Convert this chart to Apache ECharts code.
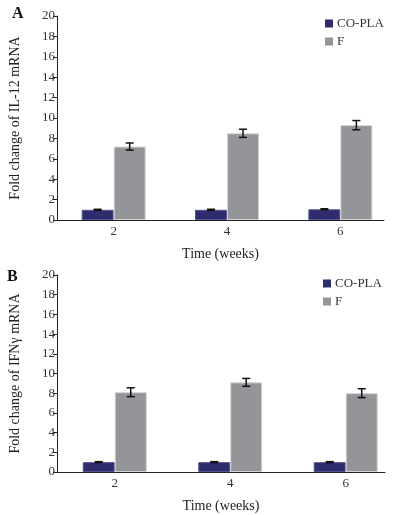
<!DOCTYPE html>
<html>
<head>
<meta charset="utf-8">
<script src="https://cdn.jsdelivr.net/npm/echarts@6/dist/echarts.min.js"></script>
<style>
	html, body { margin:0; padding:0; background:#fff; }
	#chart { width:396px; height:515px; }
</style>
</head>
<body>
<div id="chart"></div>
<script>
// data
var weeks = [2, 4, 6];
var seriesNames = ['CO-PLA', 'F'];
var il12Copla = [1.0, 1.0, 1.05];
var il12CoplaErr = [0.05, 0.05, 0.05];
var il12F = [7.2, 8.5, 9.3];
var il12FErr = [0.35, 0.4, 0.45];
var ifnCopla = [1.0, 1.0, 1.0];
var ifnCoplaErr = [0.05, 0.05, 0.05];
var ifnF = [8.1, 9.1, 8.0];
var ifnFErr = [0.45, 0.4, 0.45];
var yTitles = ['Fold change of IL-12 mRNA', 'Fold change of IFNγ mRNA'];

var FONT = 'Liberation Serif';
var BW = 32;	//bar width px
var colors = ['#2f2c6e', '#939598'];

function pairs(vals, errs){
	var ls = [];
	for(var i=0; i<weeks.length; i++){ ls.push(errs ? [weeks[i], vals[i], errs[i]] : [weeks[i], vals[i]]); }
	return ls;
}

function errSeries(idx, vals, errs, off){
	return {
		type:'custom', xAxisIndex:idx, yAxisIndex:idx, z:5, silent:true,
		data: pairs(vals, errs),
		renderItem: function(params, api){
			var x = api.value(0), y = api.value(1), e = api.value(2);
			var hi = api.coord([x, y + e]), lo = api.coord([x, y - e]);
			var cx = hi[0] + off, st = {stroke:'#111', lineWidth:1.5};
			return {type:'group', children:[
				{type:'line', shape:{x1:cx, y1:hi[1], x2:cx, y2:lo[1]}, style:st},
				{type:'line', shape:{x1:cx-4, y1:hi[1], x2:cx+4, y2:hi[1]}, style:st},
				{type:'line', shape:{x1:cx-4, y1:lo[1], x2:cx+4, y2:lo[1]}, style:st}
			]};
		}
	};
}

function barSeries(idx, name, vals, ci){
	return {
		type:'bar', name:name, xAxisIndex:idx, yAxisIndex:idx,
		barWidth:BW, barGap:'0%', data: pairs(vals),
		itemStyle:{color:colors[ci], borderColor: ci ? '#d2d3d5' : '#55538c', borderWidth:1}
	};
}

function xAx(idx, max){
	return {
		type:'value', gridIndex:idx, min:1, max:max, interval:1,
		name:'Time (weeks)', nameLocation:'middle', nameGap:27,
		nameTextStyle:{fontFamily:FONT, fontSize:14, color:'#222'},
		axisLine:{show:true, lineStyle:{color:'#222', width:1}},
		axisTick:{show:false}, splitLine:{show:false},
		axisLabel:{fontFamily:FONT, fontSize:13, color:'#333', margin:5,
			formatter:function(v){ return weeks.indexOf(v) >= 0 ? String(v) : ''; }}
	};
}

function yAx(idx){
	return {
		type:'value', gridIndex:idx, min:0, max:20, interval:2,
		name:yTitles[idx], nameLocation:'middle', nameGap:35,
		nameTextStyle:{fontFamily:FONT, fontSize:14, color:'#222'},
		axisLine:{show:true, lineStyle:{color:'#222', width:1}},
		axisTick:{show:true, length:4, lineStyle:{color:'#222'}},
		splitLine:{show:false},
		axisLabel:{fontFamily:FONT, fontSize:13, color:'#333', margin:2}
	};
}

function legend(top, left){
	return {
		data:seriesNames, orient:'vertical', top:top, left:left, icon:'rect',
		itemWidth:8, itemHeight:8, itemGap:5,
		itemStyle:{borderWidth:0},
		textStyle:{fontFamily:FONT, fontSize:13, color:'#333', padding:[0,0,0,-1]}
	};
}

var option = {
	animation:false,
	grid:[
		{left:53, top:16, width:331, height:204},
		{left:54, top:275, width:331, height:197}
	],
	xAxis:[xAx(0, 6.77), xAx(1, 6.68)],
	yAxis:[yAx(0), yAx(1)],
	legend:[legend(12, 320), legend(272, 318)],
	graphic:[
		{type:'text', left:12, top:6, style:{text:'A', font:'bold 16px "Liberation Serif"', fill:'#111'}},
		{type:'text', left:7, top:269, style:{text:'B', font:'bold 16px "Liberation Serif"', fill:'#111'}}
	],
	series:[
		barSeries(0, 'CO-PLA', il12Copla, 0),
		barSeries(0, 'F', il12F, 1),
		barSeries(1, 'CO-PLA', ifnCopla, 0),
		barSeries(1, 'F', ifnF, 1),
		errSeries(0, il12Copla, il12CoplaErr, -BW/2),
		errSeries(0, il12F, il12FErr, BW/2),
		errSeries(1, ifnCopla, ifnCoplaErr, -BW/2),
		errSeries(1, ifnF, ifnFErr, BW/2)
	]
};

var myChart = echarts.init(document.getElementById('chart'), null, {renderer:'canvas'});
myChart.setOption(option);
</script>
</body>
</html>
